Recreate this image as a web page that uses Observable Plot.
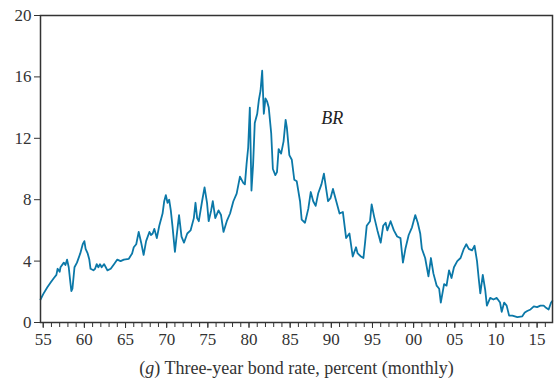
<!DOCTYPE html>
<html>
<head>
<meta charset="utf-8">
<script src="https://cdn.jsdelivr.net/npm/d3@7"></script>
<script src="https://cdn.jsdelivr.net/npm/@observablehq/plot@0.6"></script>
<style>
  html, body { margin: 0; padding: 0; background: #fff; }
  #chart { width: 555px; height: 352px; }
  #chart svg, #chart svg text { font-family: "Liberation Serif", "DejaVu Serif", serif !important; }
  #caption { width: 555px; font-family: "Liberation Serif", serif; font-size: 18px; color: #333; text-align: center; padding-left: 38px; box-sizing: border-box; margin-top: 6px; }
</style>
</head>
<body>
<div id="chart"></div>
<div id="caption">(<i>g</i>) Three-year bond rate, percent (monthly)</div>
<script>
const years = [1954.67,1955.0,1955.5,1955.9,1956.3,1956.6,1956.75,1957.0,1957.1,1957.5,1957.7,1957.9,1958.1,1958.3,1958.42,1958.55,1958.8,1959.1,1959.5,1959.8,1960.0,1960.15,1960.4,1960.6,1960.75,1961.1,1961.3,1961.5,1961.7,1961.9,1962.1,1962.4,1962.6,1962.8,1963.2,1963.6,1964.0,1964.4,1964.8,1965.4,1965.8,1966.0,1966.3,1966.6,1966.9,1967.2,1967.5,1967.9,1968.1,1968.3,1968.5,1968.8,1969.1,1969.5,1969.7,1969.9,1970.1,1970.3,1970.5,1970.7,1971.0,1971.2,1971.5,1971.8,1972.1,1972.5,1972.9,1973.3,1973.5,1973.7,1973.9,1974.3,1974.6,1974.9,1975.1,1975.4,1975.6,1975.9,1976.3,1976.6,1976.9,1977.3,1977.7,1978.1,1978.5,1978.9,1979.3,1979.5,1979.7,1979.9,1980.1,1980.3,1980.5,1980.7,1981.0,1981.2,1981.4,1981.6,1981.8,1982.0,1982.2,1982.4,1982.7,1982.9,1983.2,1983.4,1983.6,1983.9,1984.2,1984.45,1984.6,1984.9,1985.2,1985.5,1985.8,1986.2,1986.4,1986.8,1987.2,1987.5,1987.8,1988.1,1988.4,1988.8,1989.1,1989.4,1989.6,1989.9,1990.2,1990.6,1991.0,1991.4,1991.8,1992.2,1992.6,1993.0,1993.2,1993.6,1993.9,1994.1,1994.3,1994.7,1994.9,1995.2,1995.6,1996.0,1996.3,1996.6,1996.8,1997.2,1997.6,1998.0,1998.4,1998.7,1999.0,1999.4,1999.8,2000.2,2000.5,2000.8,2001.0,2001.4,2001.8,2002.1,2002.4,2002.8,2003.1,2003.3,2003.7,2004.0,2004.3,2004.6,2004.9,2005.3,2005.7,2006.1,2006.4,2006.7,2007.1,2007.4,2007.7,2007.9,2008.1,2008.4,2008.7,2008.9,2009.3,2009.7,2010.1,2010.5,2010.7,2011.0,2011.3,2011.6,2012.0,2012.6,2013.2,2013.5,2013.8,2014.2,2014.6,2015.0,2015.4,2015.8,2016.0,2016.4,2016.7,2016.85];
const rates = [1.5,1.85,2.3,2.6,2.9,3.1,3.5,3.3,3.6,3.9,3.75,4.1,3.6,2.6,2.05,2.2,3.6,3.9,4.5,5.1,5.3,4.8,4.5,4.1,3.5,3.4,3.5,3.8,3.6,3.8,3.6,3.8,3.6,3.4,3.5,3.8,4.1,4.0,4.1,4.15,4.5,4.9,5.1,5.9,5.2,4.4,5.3,5.9,5.7,5.8,6.1,5.5,6.3,7.1,7.9,8.3,7.8,8.0,7.3,6.3,4.6,5.6,7.0,5.6,5.2,5.8,6.0,6.8,7.8,6.8,6.6,7.9,8.8,7.8,6.6,7.3,7.9,6.8,7.3,7.0,5.9,6.6,7.1,7.9,8.4,9.5,9.1,9.0,10.3,11.4,14.0,8.6,10.3,13.0,13.6,14.5,15.1,16.4,13.6,14.6,14.4,14.0,12.3,10.0,9.6,9.8,11.3,11.0,11.8,13.2,12.7,10.9,10.6,9.3,9.2,7.9,6.7,6.5,7.4,8.5,7.9,7.6,8.4,9.0,9.7,8.6,7.9,8.1,8.7,7.9,7.1,7.2,5.5,5.8,4.3,4.9,4.5,4.3,4.2,5.2,6.3,6.6,7.7,6.9,6.0,5.2,6.3,6.5,6.0,6.6,6.0,5.6,5.5,3.9,4.8,5.7,6.2,7.0,6.5,5.8,4.8,4.2,3.0,4.2,3.2,2.4,2.2,1.3,2.5,2.4,3.4,2.9,3.6,4.0,4.2,4.8,5.1,4.8,4.7,5.0,4.0,2.9,1.9,3.1,2.1,1.1,1.6,1.5,1.6,1.3,0.7,1.3,1.1,0.45,0.45,0.35,0.4,0.65,0.75,0.85,1.05,1.0,1.1,1.1,1.0,0.85,1.3,1.4];
const majorTicks = [1955,1960,1965,1970,1975,1980,1985,1990,1995,2000,2005,2010,2015];
const minorTicks = d3.range(1955, 2017);
const yTicks = [0,4,8,12,16,20];
const seriesLabel = "BR";

const data = years.map((y, i) => ({year: y, rate: rates[i]}));

const chart = Plot.plot({
  width: 555,
  height: 352,
  marginLeft: 40,
  marginRight: 3,
  marginTop: 15,
  marginBottom: 30,
  style: {fontFamily: '"Liberation Serif", serif', fontSize: "17px", color: "#333", background: "#fff"},
  x: {domain: [1954.67, 2016.87]},
  y: {domain: [0, 20]},
  marks: [
    Plot.axisX({ticks: minorTicks, tickSize: 5, tickFormat: () => "", stroke: "#333", label: null}),
    Plot.axisX({ticks: majorTicks, tickSize: 6, tickPadding: 4, tickFormat: d => String(d % 100).padStart(2, "0"), stroke: "#333", fontSize: 17, label: null}),
    Plot.axisY({ticks: yTicks, tickSize: 6, tickPadding: 3, stroke: "#333", fontSize: 17, label: null}),
    Plot.line(data, {x: "year", y: "rate", stroke: "#0b78a8", strokeWidth: 1.8}),
    Plot.text([seriesLabel], {x: 1990.1, y: 13.3, text: d => d, fontStyle: "italic", fontSize: 18, fill: "#222"}),
    Plot.frame({stroke: "#333", strokeWidth: 1.5})
  ]
});
document.getElementById("chart").appendChild(chart);
</script>
</body>
</html>
